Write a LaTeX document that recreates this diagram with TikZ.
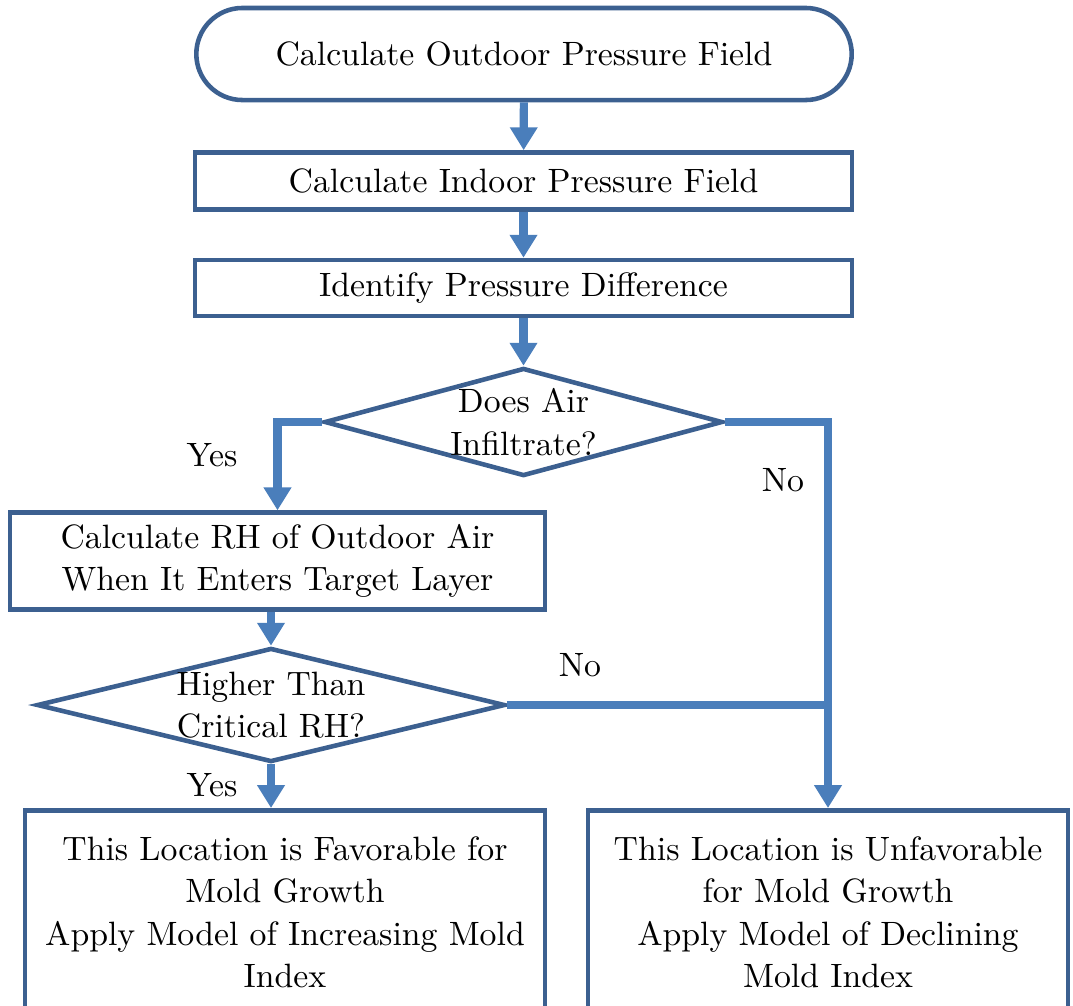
\documentclass[tikz,border=0pt]{standalone}
\usetikzlibrary{arrows.meta,shapes.geometric,calc}

\definecolor{edgeblue}{HTML}{3C6090}
\definecolor{flowblue}{HTML}{4A7EBB}

\begin{document}
\begin{tikzpicture}[
  x=0.01cm, y=-0.01cm,
  every node/.style={font=\fontsize{9.6}{12}\selectfont},
  term/.style={draw=edgeblue, line width=1.3pt, fill=white, rounded corners=0.46cm, minimum width=6.55cm, minimum height=0.92cm},
  proc/.style={draw=edgeblue, line width=1.3pt, fill=white, minimum width=6.57cm, minimum height=0.57cm, align=center},
  decision/.style={diamond, draw=edgeblue, line width=1.3pt, fill=white, inner sep=0pt},
  result/.style={draw=edgeblue, line width=1.3pt, fill=white, anchor=north, minimum height=2.04cm, align=center},
  flow/.style={draw=flowblue, line width=2.3pt, -{Triangle[width=7.5pt,length=6.5pt]}},
  link/.style={draw=flowblue, line width=2.3pt}
]
\useasboundingbox (0,0) rectangle (1073,1005);
\clip (0,0) rectangle (1073,1005);

\node[term] (outdoor) at (524,54) {Calculate Outdoor Pressure Field};
\node[proc] (indoor) at (523.5,181) {Calculate Indoor Pressure Field};
\node[proc, minimum height=0.56cm] (diff) at (523.5,288) {Identify Pressure Difference};
\node[decision, minimum width=3.98cm, minimum height=1.08cm,
  label={[align=center]center:Does Air\\Infiltrate?}] (air) at (523.5,422) {};
\node[proc, minimum width=5.35cm, minimum height=0.92cm] (infil) at (277.5,561) {Calculate RH of Outdoor Air\\When It Enters Target Layer};
\node[decision, minimum width=4.68cm, minimum height=1.14cm,
  label={[align=center]center:Higher Than\\Critical RH?}] (crit) at (271,705) {};
\node[result, minimum width=5.2cm] (fav) at (285,808) {This Location is Favorable for\\Mold Growth\\Apply Model of Increasing Mold\\Index};
\node[result, minimum width=4.8cm] (unfav) at (828,808) {This Location is Unfavorable\\for Mold Growth\\Apply Model of Declining\\Mold Index};

% labels on the branches
\node (yes1) at (212,455) {Yes};
\node (no1) at (783,480) {No};
\node (no2) at (580,665) {No};
\node (yes2) at (212,785) {Yes};

\foreach \a/\b in {outdoor/indoor, indoor/diff, diff/air}
  \draw[flow] (\a) -- (\b);
\draw[flow] (air.west) -| (infil.north);
\draw[flow] (air.east) -| (unfav.north);
\draw[flow] (infil.south -| crit.north) -- (crit.north);
\draw[link] (crit.east) -- (crit.east -| unfav.north);
\draw[flow] (crit.south) -- (crit.south |- fav.north);
\end{tikzpicture}
\end{document}
